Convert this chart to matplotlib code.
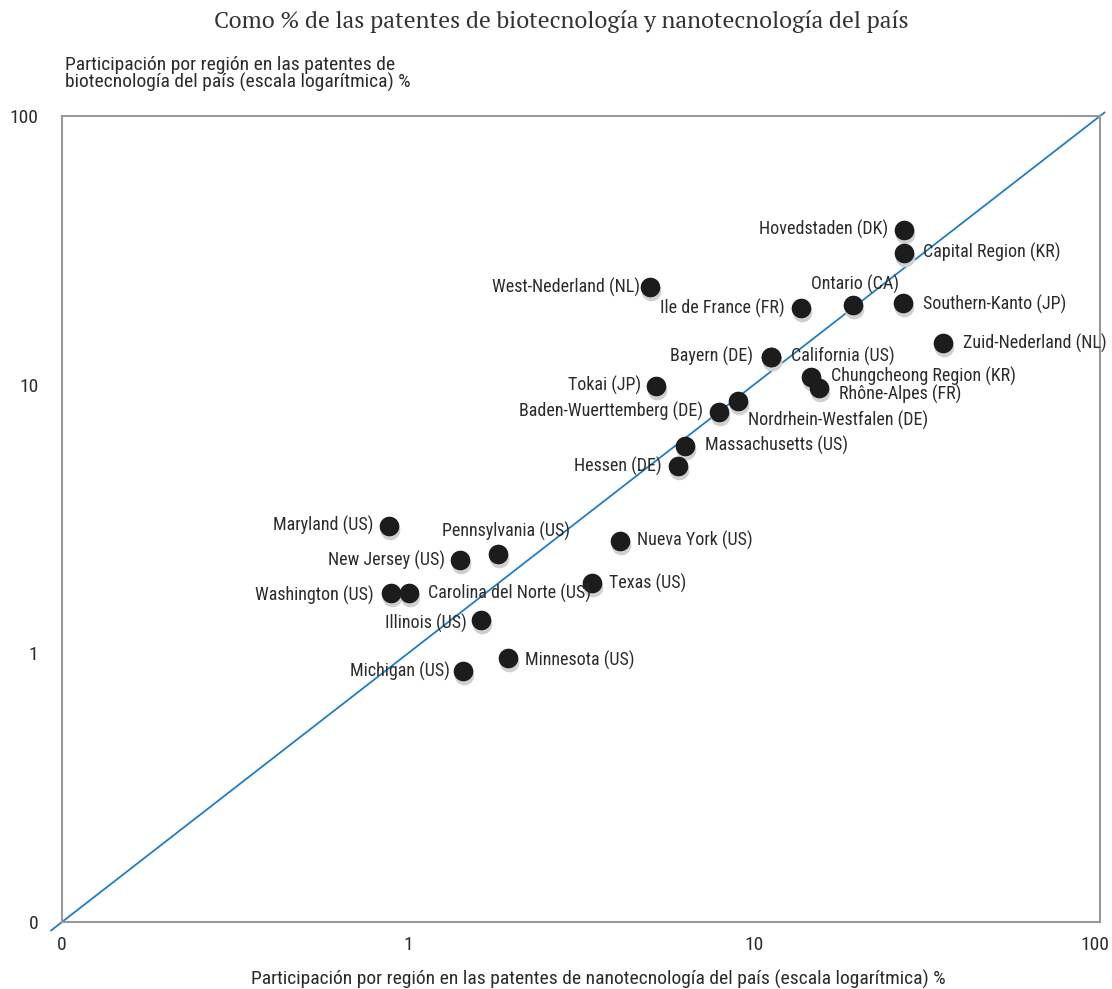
import matplotlib
matplotlib.use("Agg")
import matplotlib.pyplot as plt
from matplotlib import transforms

# datos (nano %, bio %)
regiones = ["Hovedstaden (DK)", "Capital Region (KR)", "West-Nederland (NL)", "Ontario (CA)",
            "Ile de France (FR)", "Southern-Kanto (JP)", "Zuid-Nederland (NL)", "Bayern (DE)",
            "California (US)", "Chungcheong Region (KR)", "Rhône-Alpes (FR)", "Tokai (JP)",
            "Nordrhein-Westfalen (DE)", "Baden-Wuerttemberg (DE)", "Massachusetts (US)",
            "Hessen (DE)", "Maryland (US)", "Pennsylvania (US)", "Nueva York (US)",
            "New Jersey (US)", "Texas (US)", "Washington (US)", "Carolina del Norte (US)",
            "Illinois (US)", "Minnesota (US)", "Michigan (US)"]
nano = [27.2, 27.2, 5.0, 19.3, 13.7, 27.0, 35.2, 11.2, 11.2, 14.6, 15.4, 5.21,
        8.99, 7.92, 6.32, 6.03, 0.881, 1.82, 4.10, 1.41, 3.40, 0.893, 1.01, 1.63, 1.95, 1.44]
bio = [37.7, 31.0, 23.1, 19.8, 19.3, 20.2, 14.3, 12.7, 12.7, 10.7, 9.75, 9.9,
       8.72, 7.94, 5.93, 4.96, 2.99, 2.35, 2.63, 2.22, 1.82, 1.67, 1.67, 1.33, 0.96, 0.86]

# desplazamiento de etiquetas en pixeles
offsets = [(-16, 0, "right"), (19, 0, "left"), (-10, 0, "right"), (2, 21, "center"),
           (-17, 0, "right"), (20, -2, "left"), (20, 0, "left"), (-18, 0, "right"),
           (20, 0, "left"), (20, 0, "left"), (20, -7, "left"), (-15, 0, "right"),
           (10, -20, "left"), (-16, 0, "right"), (20, 0, "left"), (-16, 0, "right"),
           (-16, 0, "right"), (8, 22, "center"), (17, 0, "left"), (-15, 0, "right"),
           (17, 0, "left"), (-17, -2, "right"), (19, 0, "left"), (-15, -3, "right"),
           (17, -2, "left"), (-13, 0, "right")]

fuente = ["Roboto Condensed", "Archivo Narrow", "DejaVu Sans"]
plt.rcParams["font.family"] = fuente
texto = "#2b2b2b"

fig = plt.figure(figsize=(11.12, 9.89), dpi=100)
ax = fig.add_axes([62 / 1112, 1 - 922 / 989, 1038 / 1112, 806 / 989])
ax.set_xscale("log")
ax.set_yscale("log")
ax.set_xlim(0.1, 100)
ax.set_ylim(0.1, 100)

ax.plot([0.093, 103], [0.093, 103], color="#1f7ec2", lw=1.3, clip_on=False, zorder=2)

sombra = transforms.offset_copy(ax.transData, fig=fig, x=1, y=-4, units="dots")
ax.scatter(nano, bio, s=200, color="#d0d0d0", transform=sombra, zorder=3, linewidths=0)
ax.scatter(nano, bio, s=200, color="#1c1c1c", zorder=4, linewidths=0)

for nombre, x, y, (dx, dy, ha) in zip(regiones, nano, bio, offsets):
    ax.annotate(nombre, (x, y), xytext=(dx, dy), textcoords="offset pixels",
                ha=ha, va="center", fontsize=13, color=texto, zorder=5)

ax.set_xticks([0.1, 1, 10, 100])
ax.set_xticklabels(["0", "1", "10", "100"])
ax.set_yticks([0.1, 1, 10, 100])
ax.set_yticklabels(["0", "1", "10", "100"])
ax.minorticks_off()
ax.tick_params(length=0, labelsize=14, colors=texto)
ax.tick_params(axis="x", pad=10)
ax.tick_params(axis="y", pad=17)
ultima = ax.get_xticklabels()[-1]
ultima.set_transform(ultima.get_transform() + transforms.ScaledTranslation(-5 / 100, 0, fig.dpi_scale_trans))
for s in ax.spines.values():
    s.set_color("#999999")
    s.set_linewidth(1.5)

fig.text(0.505, 1 - 22 / 989, "Como % de las patentes de biotecnología y nanotecnología del país",
         ha="center", va="center", fontsize=16.8, family=["PT Serif", "DejaVu Serif"], color="#333333")
fig.text(65 / 1112, 1 - 74 / 989,
         "Participación por región en las patentes de\nbiotecnología del país (escala logarítmica) %",
         ha="left", va="center", fontsize=14, linespacing=0.9, color=texto)
fig.text(598 / 1112, 1 - 979 / 989,
         "Participación por región en las patentes de nanotecnología del país (escala logarítmica) %",
         ha="center", va="center", fontsize=14, color=texto)

fig.savefig("out.png", dpi=100)
